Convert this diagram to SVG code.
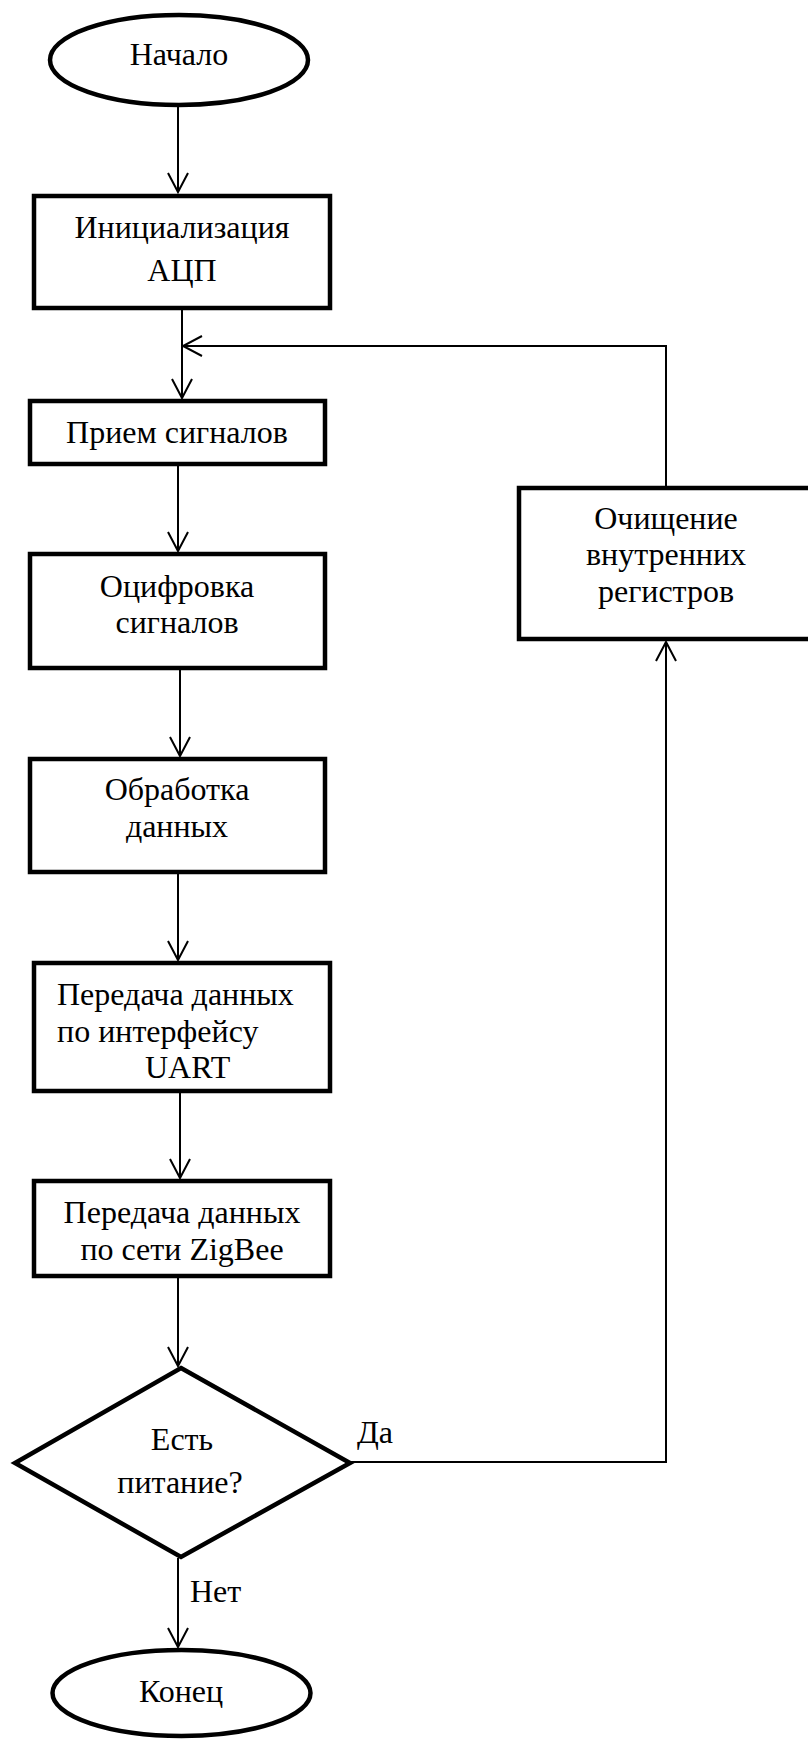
<svg xmlns="http://www.w3.org/2000/svg" width="808" height="1740" viewBox="0 0 808 1740">
  <style>
    .shape { fill: #fff; stroke: #000; stroke-width: 4.5; }
    .conn { fill: none; stroke: #000; stroke-width: 2; }
    text { font-family: "Liberation Serif", "Times New Roman", serif; font-size: 32px; fill: #000; }
    .c { text-anchor: middle; }
  </style>
  <defs>
    <marker id="arrow" markerUnits="userSpaceOnUse" viewBox="-22 -12 24 24" markerWidth="24" markerHeight="24" refX="0" refY="0" orient="auto" overflow="visible">
      <path d="M-19,-10 L0,0 L-19,10" fill="none" stroke="#000" stroke-width="2"/>
    </marker>
  </defs>
  <rect width="808" height="1740" fill="#fff"/>

  <!-- connectors -->
  <g id="connectors">
    <line class="conn" x1="178" y1="107" x2="178" y2="192" marker-end="url(#arrow)"/>
    <line class="conn" x1="182" y1="310" x2="182" y2="398" marker-end="url(#arrow)"/>
    <line class="conn" x1="178" y1="466" x2="178" y2="551" marker-end="url(#arrow)"/>
    <line class="conn" x1="180" y1="670" x2="180" y2="756" marker-end="url(#arrow)"/>
    <line class="conn" x1="178" y1="874" x2="178" y2="960" marker-end="url(#arrow)"/>
    <line class="conn" x1="180" y1="1093" x2="180" y2="1178" marker-end="url(#arrow)"/>
    <line class="conn" x1="178" y1="1278" x2="178" y2="1366" marker-end="url(#arrow)"/>
    <line class="conn" x1="178" y1="1558" x2="178" y2="1647" marker-end="url(#arrow)"/>
    <!-- "yes" branch up to the register reset -->
    <polyline class="conn" points="350,1462 666,1462 666,642" marker-end="url(#arrow)"/>
    <!-- loop back to signal reception -->
    <polyline class="conn" points="666,487 666,346 183,346" marker-end="url(#arrow)"/>
    <text x="357" y="1443">Да</text>
    <text x="190" y="1602">Нет</text>
  </g>

  <g id="start">
    <ellipse class="shape" cx="179" cy="60" rx="129" ry="45"/>
    <text class="c" x="179" y="65">Начало</text>
  </g>

  <g id="init-adc">
    <rect class="shape" x="34" y="196" width="296" height="112"/>
    <text class="c" x="182" y="238">Инициализация</text>
    <text class="c" x="182" y="281">АЦП</text>
  </g>

  <g id="receive">
    <rect class="shape" x="30" y="401" width="295" height="63"/>
    <text class="c" x="177" y="443">Прием сигналов</text>
  </g>

  <g id="digitize">
    <rect class="shape" x="30" y="554" width="295" height="114"/>
    <text class="c" x="177" y="597">Оцифровка</text>
    <text class="c" x="177" y="633">сигналов</text>
  </g>

  <g id="process">
    <rect class="shape" x="30" y="759" width="295" height="113"/>
    <text class="c" x="177" y="800">Обработка</text>
    <text class="c" x="177" y="837">данных</text>
  </g>

  <g id="uart">
    <rect class="shape" x="34" y="963" width="296" height="128"/>
    <text x="57" y="1005">Передача данных</text>
    <text x="57" y="1042">по интерфейсу</text>
    <text x="145" y="1078">UART</text>
  </g>

  <g id="zigbee">
    <rect class="shape" x="34" y="1181" width="296" height="95"/>
    <text class="c" x="182" y="1223">Передача данных</text>
    <text class="c" x="182" y="1260">по сети ZigBee</text>
  </g>

  <g id="power-check">
    <polygon class="shape" points="181,1368 350,1463 181,1557 15,1463" stroke-width="5"/>
    <text class="c" x="182" y="1450">Есть</text>
    <text class="c" x="180" y="1493">питание?</text>
  </g>

  <g id="clear-registers">
    <rect class="shape" x="519" y="488" width="300" height="151"/>
    <text class="c" x="666" y="529">Очищение</text>
    <text class="c" x="666" y="565">внутренних</text>
    <text class="c" x="666" y="602">регистров</text>
  </g>

  <g id="end">
    <ellipse class="shape" cx="181.5" cy="1693" rx="129" ry="43"/>
    <text class="c" x="181" y="1702">Конец</text>
  </g>
</svg>
